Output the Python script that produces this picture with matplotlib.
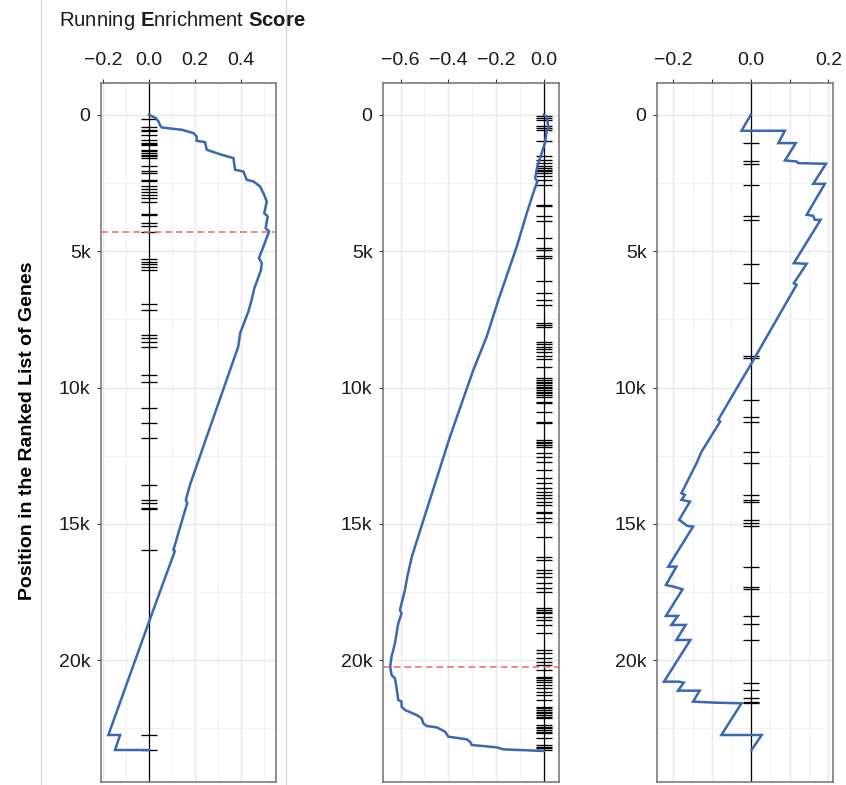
import numpy as np
import matplotlib.pyplot as plt
from matplotlib.lines import Line2D
from matplotlib.ticker import FixedLocator, MultipleLocator

plt.rcParams['font.family'] = ['Liberation Sans', 'DejaVu Sans']
plt.rcParams['mathtext.fontset'] = 'custom'
plt.rcParams['mathtext.rm'] = 'Liberation Sans'
plt.rcParams['mathtext.bf'] = 'Liberation Sans:bold'

n_genes = 23300
ytick_vals = [0, 5000, 10000, 15000, 20000]
ytick_labels = ['0', '5k', '10k', '15k', '20k']

# panel 1 - running ES (position, score)
pos1 = [0, 122, 245, 391, 465, 550, 672, 795, 954, 1003, 1284, 1467, 1590, 2017, 2079,
        2384, 2445, 2629, 2873, 3179, 3607, 3729, 4157, 4280, 5257, 5441, 5685, 6358,
        6786, 7214, 8007, 8497, 11800, 13570, 14120, 14240, 14490, 15955, 16000, 18586,
        22742, 22742, 23292, 23292]
es1 = [0.0, 0.029, 0.041, 0.048, 0.055, 0.142, 0.193, 0.207, 0.207, 0.243, 0.251, 0.316,
       0.367, 0.374, 0.41, 0.425, 0.454, 0.483, 0.497, 0.512, 0.501, 0.516, 0.507, 0.522,
       0.478, 0.49, 0.487, 0.458, 0.446, 0.432, 0.396, 0.388, 0.251, 0.178, 0.16, 0.166,
       0.157, 0.106, 0.112, 0.0, -0.177, -0.126, -0.148, 0.0]
hits1 = [147, 465, 550, 611, 758, 917, 1039, 1080, 1120, 1284, 1345, 1406, 1467, 1529,
         1590, 1895, 2079, 2140, 2384, 2421, 2629, 2714, 2836, 2934, 3057, 3204, 3620,
         3660, 3973, 4096, 4280, 5282, 5380, 5476, 5564, 5686, 6932, 7153, 8070, 8191,
         8314, 8497, 9537, 9782, 10759, 11309, 11859, 13572, 14122, 14243, 14427, 14463,
         15956, 22742, 23292]
peak1 = 4280

# panel 2
pos2 = [0, 60, 489, 612, 1039, 1895, 2323, 2445, 2872, 3606, 4830, 6786, 8131, 9353,
        11800, 14490, 16202, 16935, 17423, 18157, 18279, 18646, 19379, 19868, 20235,
        20541, 20663, 21030, 21458, 21519, 21702, 21825, 22008, 22130, 22314, 22411,
        22461, 22619, 22803, 22900, 22986, 23108, 23194, 23267, 23328]
es2 = [0.0, 0.012, 0.02, 0.012, 0.005, -0.027, -0.036, -0.027, -0.044, -0.071, -0.113,
       -0.19, -0.239, -0.295, -0.393, -0.491, -0.553, -0.572, -0.582, -0.603, -0.596,
       -0.61, -0.624, -0.638, -0.644, -0.638, -0.624, -0.617, -0.61, -0.596, -0.596,
       -0.582, -0.533, -0.512, -0.505, -0.491, -0.449, -0.414, -0.4, -0.323, -0.309,
       -0.302, -0.197, -0.169, 0.0]
hits2 = [61, 122, 183, 428, 489, 550, 978, 1528, 1651, 1773, 1895, 1956, 2017, 2079,
         2140, 2262, 2384, 2568, 3301, 3362, 3729, 3913, 4524, 4890, 4952, 5196, 5258,
         6113, 6541, 6786, 6969, 7641, 7703, 7764, 8314, 8411, 8497, 8583, 8681, 8828,
         8950, 9231, 9659, 9720, 9781, 9842, 9904, 9965, 10026, 10087, 10148, 10209,
         10270, 10331, 10515, 10576, 10882, 11273, 11310, 11921, 11982, 12043, 12104,
         12166, 12410, 12532, 12716, 13022, 13327, 13511, 13694, 13816, 13938, 14061,
         14183, 14305, 14550, 14611, 14794, 14917, 15467, 16200, 16323, 16690, 16812,
         16934, 17179, 17362, 17484, 18096, 18157, 18218, 18279, 18401, 18523, 18707,
         19012, 19624, 19746, 19930, 20052, 20174, 20357, 20602, 20663, 20724, 20785,
         20908, 21030, 21152, 21274, 21458, 21702, 21763, 21825, 21886, 21947, 22008,
         22069, 22130, 22375, 22436, 22497, 22558, 22619, 22680, 22864, 23108, 23170,
         23231, 23292]
peak2 = 20235

# panel 3
pos3 = [0, 587, 587, 1039, 1039, 1675, 1712, 1773, 1797, 2531, 2531, 3668, 3705, 3851,
        3851, 5440, 5465, 6174, 6235, 9108, 10454, 11187, 11248, 12350, 12775, 13876,
        13938, 14122, 14183, 14855, 14953, 15075, 15100, 16568, 16568, 17240, 17301,
        17398, 18376, 18376, 18706, 18706, 19257, 19257, 20787, 20787, 20823, 21116,
        21116, 21519, 21556, 21580, 22742, 22742, 23292]
es3 = [0.0, -0.024, 0.088, 0.071, 0.116, 0.088, 0.118, 0.122, 0.194, 0.161, 0.191, 0.144,
       0.161, 0.165, 0.18, 0.111, 0.144, 0.111, 0.118, 0.002, -0.054, -0.084, -0.079,
       -0.127, -0.14, -0.179, -0.17, -0.179, -0.157, -0.185, -0.175, -0.164, -0.149,
       -0.213, -0.192, -0.219, -0.2, -0.176, -0.219, -0.188, -0.205, -0.168, -0.192,
       -0.156, -0.224, -0.185, -0.173, -0.188, -0.132, -0.149, -0.089, -0.024, -0.076,
       0.028, 0.002]
hits3 = [1039, 1712, 1797, 2568, 3705, 3851, 5465, 6150, 8850, 8900, 10454, 11065, 11248,
         12349, 12777, 13938, 14122, 14183, 14855, 14978, 15076, 16567, 17301, 17398,
         18376, 18669, 19257, 20823, 21091, 21397, 21519, 21580]

blue = '#3A67B3'
red = '#E8696B'

fig = plt.figure(figsize=(8.46, 7.85), dpi=100)


def panel(rect, pos, es, hits, peak, xlim, xticks, xlabels, xminor):
	ax = fig.add_axes(rect)
	ax.set_xlim(xlim)
	ax.set_ylim(n_genes * 1.05, -n_genes * 0.05)
	ax.xaxis.tick_top()
	ax.set_xticks(xticks, xlabels)
	ax.xaxis.set_minor_locator(FixedLocator(xminor))
	ax.set_yticks(ytick_vals, ytick_labels)
	ax.yaxis.set_minor_locator(MultipleLocator(2500))
	ax.set_axisbelow(True)
	ax.grid(which='major', color='#e9e9e9', lw=1.0)
	ax.grid(which='minor', color='#f1f1f1', lw=0.8)
	ax.tick_params(which='minor', length=0)
	ax.tick_params(axis='x', which='major', length=3, width=0.8, color='#333333',
				   pad=7, labelsize=14, labelcolor='#1a1a1a')
	ax.tick_params(axis='y', which='major', length=3, width=0.8, color='#333333',
				   pad=4.5, labelsize=14, labelcolor='#1a1a1a')
	for s in ax.spines.values():
		s.set_color('#707070')
		s.set_linewidth(1.1)
	ax.axvline(0, color='black', lw=0.9, zorder=2)
	hw = 0.046 * (xlim[1] - xlim[0])
	ax.hlines(hits, -hw, hw, color='black', lw=0.95, zorder=3)
	ax.plot(es, pos, color=blue, lw=1.8, zorder=4, solid_joinstyle='miter')
	if peak is not None:
		ax.axhline(peak, color=red, lw=1.1, dashes=(4.4, 2.6), zorder=5)
	return ax


panel([101 / 846, 3 / 785, 175 / 846, 699 / 785], pos1, es1, hits1, peak1,
	  (-0.209, 0.552), [-0.2, 0.0, 0.2, 0.4], ['\u22120.2', '0.0', '0.2', '0.4'],
	  [-0.1, 0.1, 0.3, 0.5])
panel([383 / 846, 3 / 785, 176 / 846, 699 / 785], pos2, es2, hits2, peak2,
	  (-0.674, 0.064), [-0.6, -0.4, -0.2, 0.0],
	  ['\u22120.6', '\u22120.4', '\u22120.2', '0.0'], [-0.5, -0.3, -0.1])
panel([657 / 846, 3 / 785, 176 / 846, 699 / 785], pos3, es3, hits3, None,
	  (-0.242, 0.212), [-0.2, -0.1, 0.0, 0.1, 0.2], ['\u22120.2', '', '0.0', '', '0.2'],
	  [-0.15, -0.05, 0.05, 0.15])

# light frame lines around the first panel block
for xf in [41 / 846, 286 / 846]:
	fig.add_artist(Line2D([xf, xf], [0, 1], color='#d6d6d6', lw=0.8))

fig.text(59 / 846, 1 - 25.7 / 785, r'Running $\mathbf{E}$nrichment $\mathbf{Score}$',
		 fontsize=14.6, va='baseline', ha='left', color='#1a1a1a')
fig.text(28 / 846, 1 - 431 / 785, 'Position in the Ranked List of Genes', rotation=90,
		 fontsize=14, fontweight='bold', ha='center', va='center', color='black')

plt.savefig('out.png', dpi=100)
